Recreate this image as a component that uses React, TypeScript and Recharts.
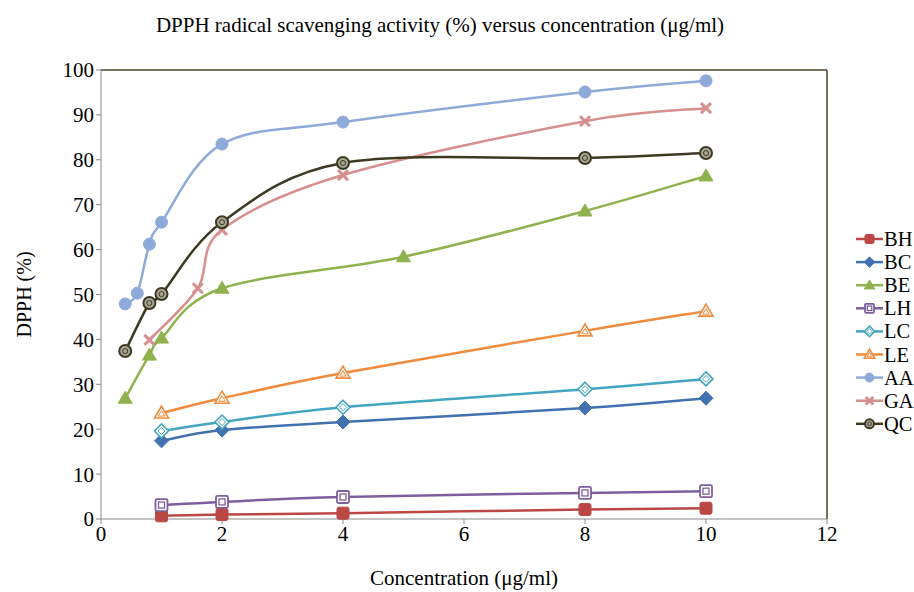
import React from 'react';
import { LineChart, Line, XAxis, YAxis, Legend, ReferenceLine } from 'recharts';

// ---------- data ----------
const xTicks = [0, 2, 4, 6, 8, 10, 12];
const yTicks = [0, 10, 20, 30, 40, 50, 60, 70, 80, 90, 100];

const concMain = [1, 2, 4, 8, 10];
const bhValues = [0.7, 1.0, 1.3, 2.1, 2.4];
const bcValues = [17.4, 19.8, 21.6, 24.7, 26.9];
const lhValues = [3.1, 3.8, 4.9, 5.8, 6.2];
const lcValues = [19.6, 21.6, 24.9, 28.9, 31.2];
const leValues = [23.6, 26.9, 32.5, 41.9, 46.3];

const beConc = [0.4, 0.8, 1, 2, 5, 8, 10];
const beValues = [26.9, 36.5, 40.3, 51.4, 58.4, 68.6, 76.4];

const aaConc = [0.4, 0.6, 0.8, 1, 2, 4, 8, 10];
const aaValues = [47.9, 50.3, 61.2, 66.1, 83.5, 88.4, 95.1, 97.6];

const gaConc = [0.8, 1.6, 2, 4, 8, 10];
const gaValues = [39.9, 51.4, 64.4, 76.6, 88.6, 91.5];

const qcConc = [0.4, 0.8, 1, 2, 4, 8, 10];
const qcValues = [37.4, 48.1, 50.1, 66.1, 79.3, 80.4, 81.5];

const toPoints = (xs: number[], ys: number[]) => xs.map((x, i) => ({ x, y: ys[i] }));

type Shape =
  | 'square'
  | 'diamond'
  | 'triangle'
  | 'squareOpen'
  | 'diamondOpen'
  | 'triangleOpen'
  | 'circle'
  | 'x'
  | 'circleOpen';

const series: { name: string; color: string; shape: Shape; data: { x: number; y: number }[] }[] = [
  { name: 'BH', color: '#bb4845', shape: 'square', data: toPoints(concMain, bhValues) },
  { name: 'BC', color: '#4271b0', shape: 'diamond', data: toPoints(concMain, bcValues) },
  { name: 'BE', color: '#8fb24e', shape: 'triangle', data: toPoints(beConc, beValues) },
  { name: 'LH', color: '#7d5fa0', shape: 'squareOpen', data: toPoints(concMain, lhValues) },
  { name: 'LC', color: '#43a5c0', shape: 'diamondOpen', data: toPoints(concMain, lcValues) },
  { name: 'LE', color: '#f08a3c', shape: 'triangleOpen', data: toPoints(concMain, leValues) },
  { name: 'AA', color: '#8eaad9', shape: 'circle', data: toPoints(aaConc, aaValues) },
  { name: 'GA', color: '#d78f8e', shape: 'x', data: toPoints(gaConc, gaValues) },
  { name: 'QC', color: '#3d3a22', shape: 'circleOpen', data: toPoints(qcConc, qcValues) },
];

const FONT = '"Liberation Serif", "Times New Roman", serif';

// Excel-like smoothing (Catmull-Rom bezier) as a d3 curve factory
function excelSmooth(context: any) {
  let pts: [number, number][] = [];
  return {
    areaStart() {},
    areaEnd() {},
    lineStart() {
      pts = [];
    },
    lineEnd() {
      const n = pts.length;
      if (n === 0) return;
      context.moveTo(pts[0][0], pts[0][1]);
      if (n === 1) return;
      for (let i = 0; i < n - 1; i++) {
        const p0 = pts[Math.max(i - 1, 0)];
        const p1 = pts[i];
        const p2 = pts[i + 1];
        const p3 = pts[Math.min(i + 2, n - 1)];
        const c1x = p1[0] + (p2[0] - p0[0]) / 6;
        const c1y = p1[1] + (p2[1] - p0[1]) / 6;
        const c2x = p2[0] - (p3[0] - p1[0]) / 6;
        const c2y = p2[1] - (p3[1] - p1[1]) / 6;
        context.bezierCurveTo(c1x, c1y, c2x, c2y, p2[0], p2[1]);
      }
    },
    point(x: number, y: number) {
      pts.push([x, y]);
    },
  };
}

function marker(shape: Shape, cx: number, cy: number, color: string, s = 1, key?: string) {
  const k = key;
  switch (shape) {
    case 'square':
      return (
        <rect key={k} x={cx - 6 * s} y={cy - 6 * s} width={12 * s} height={12 * s} rx={2 * s} fill={color} stroke={color} strokeWidth={1} />
      );
    case 'diamond':
      return (
        <polygon
          key={k}
          points={`${cx},${cy - 7 * s} ${cx + 7 * s},${cy} ${cx},${cy + 7 * s} ${cx - 7 * s},${cy}`}
          fill={color}
          stroke={color}
          strokeWidth={1}
        />
      );
    case 'triangle':
      return (
        <polygon
          key={k}
          points={`${cx},${cy - 7 * s} ${cx + 7 * s},${cy + 5 * s} ${cx - 7 * s},${cy + 5 * s}`}
          fill={color}
          stroke={color}
          strokeWidth={1}
        />
      );
    case 'squareOpen':
      return (
        <g key={k}>
          <rect x={cx - 6 * s} y={cy - 6 * s} width={12 * s} height={12 * s} rx={1.5 * s} fill="#fff" stroke={color} strokeWidth={1.8} />
          <rect x={cx - 3 * s} y={cy - 3 * s} width={6 * s} height={6 * s} fill="none" stroke={color} strokeWidth={1.3} />
        </g>
      );
    case 'diamondOpen':
      return (
        <g key={k}>
          <polygon
            points={`${cx},${cy - 7 * s} ${cx + 7 * s},${cy} ${cx},${cy + 7 * s} ${cx - 7 * s},${cy}`}
            fill="#fff"
            stroke={color}
            strokeWidth={1.6}
          />
          <polygon
            points={`${cx},${cy - 3.5 * s} ${cx + 3.5 * s},${cy} ${cx},${cy + 3.5 * s} ${cx - 3.5 * s},${cy}`}
            fill="none"
            stroke={color}
            strokeWidth={1}
          />
        </g>
      );
    case 'triangleOpen':
      return (
        <g key={k}>
          <polygon
            points={`${cx},${cy - 7 * s} ${cx + 7 * s},${cy + 5 * s} ${cx - 7 * s},${cy + 5 * s}`}
            fill="#fff"
            stroke={color}
            strokeWidth={1.6}
          />
          <polygon
            points={`${cx},${cy - 2.5 * s} ${cx + 3.2 * s},${cy + 3 * s} ${cx - 3.2 * s},${cy + 3 * s}`}
            fill="none"
            stroke={color}
            strokeWidth={1}
          />
        </g>
      );
    case 'circle':
      return <circle key={k} cx={cx} cy={cy} r={6 * s} fill={color} stroke={color} strokeWidth={1} />;
    case 'x':
      return (
        <g key={k} stroke={color} strokeWidth={3} strokeLinecap="butt">
          <line x1={cx - 5 * s} y1={cy - 5 * s} x2={cx + 5 * s} y2={cy + 5 * s} />
          <line x1={cx - 5 * s} y1={cy + 5 * s} x2={cx + 5 * s} y2={cy - 5 * s} />
        </g>
      );
    case 'circleOpen':
      return (
        <g key={k}>
          <circle cx={cx} cy={cy} r={6 * s} fill="#a7a596" stroke={color} strokeWidth={2} />
          <circle cx={cx} cy={cy} r={2.5 * s} fill="none" stroke={color} strokeWidth={1} />
        </g>
      );
  }
  return null;
}

const makeDot = (name: string, shape: Shape, color: string) => (props: any) => {
  const { cx, cy, index } = props;
  return marker(shape, cx, cy, color, 1, `${name}-${index}`) as any;
};

const renderLegend = () => (
  <svg width={86} height={212} style={{ display: 'block', overflow: 'visible' }}>
    {series.map((s, i) => {
      const y = 14 + i * 23.1;
      return (
        <g key={s.name}>
          <line x1={29} x2={56} y1={y} y2={y} stroke={s.color} strokeWidth={2.5} />
          {marker(s.shape, 42.5, y, s.color, 0.75)}
          <text x={57} y={y + 7} fontSize={20.5} fontFamily={FONT} fill="#000">
            {s.name}
          </text>
        </g>
      );
    })}
  </svg>
);

export default function App() {
  return (
    <div style={{ position: 'absolute', left: 0, top: 0, width: 914, height: 592, background: '#fff' }}>
      <div
        style={{
          position: 'absolute',
          left: 0,
          width: 880,
          top: 12,
          textAlign: 'center',
          fontFamily: FONT,
          fontSize: 21,
          lineHeight: '26px',
          color: '#000',
          whiteSpace: 'nowrap',
        }}
      >
        DPPH radical scavenging activity (%) versus concentration (μg/ml)
      </div>
      <LineChart width={914} height={592} margin={{ top: 70, right: 1, bottom: 43, left: 0 }}>
        <XAxis
          dataKey="x"
          type="number"
          domain={[0, 12]}
          ticks={xTicks}
          allowDuplicatedCategory={false}
          stroke="#8a8a8a"
          tickSize={5}
          height={30}
          tick={{ fill: '#000', fontSize: 21, fontFamily: FONT }}
          label={{ value: 'Concentration (μg/ml)', position: 'bottom', offset: 21, fill: '#000', fontSize: 21, fontFamily: FONT }}
        />
        <YAxis
          type="number"
          domain={[0, 100]}
          ticks={yTicks}
          stroke="#8a8a8a"
          tickSize={5}
          width={101}
          tick={{ fill: '#000', fontSize: 21, fontFamily: FONT }}
          label={{
            value: 'DPPH (%)',
            angle: -90,
            position: 'insideLeft',
            offset: 24,
            textAnchor: 'middle',
            fill: '#000',
            fontSize: 20,
            fontFamily: FONT,
          }}
        />
        <ReferenceLine y={100} stroke="#4a4528" strokeWidth={1.5} />
        <ReferenceLine x={12} stroke="#4a4528" strokeWidth={1.5} />
        <Legend
          layout="vertical"
          align="right"
          verticalAlign="top"
          width={86}
          content={renderLegend}
          wrapperStyle={{ top: 225, right: 1, width: 86 }}
        />
        {series.map((s) => (
          <Line
            key={s.name}
            name={s.name}
            data={s.data}
            dataKey="y"
            type={excelSmooth as any}
            stroke={s.color}
            strokeWidth={2.5}
            dot={makeDot(s.name, s.shape, s.color)}
            activeDot={false}
            isAnimationActive={false}
          />
        ))}
      </LineChart>
    </div>
  );
}
